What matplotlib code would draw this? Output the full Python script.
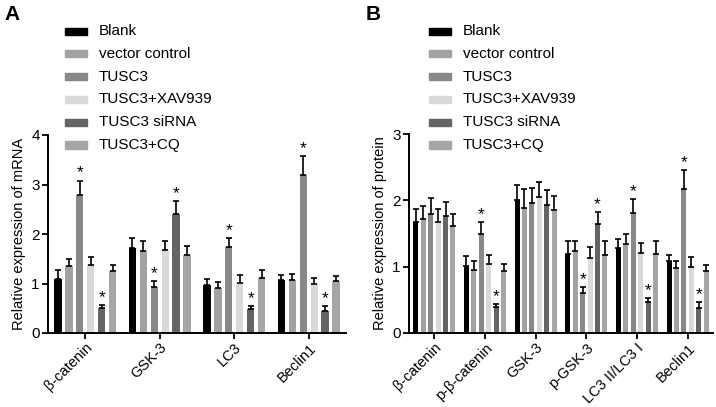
import matplotlib
matplotlib.use("Agg")
import matplotlib.pyplot as plt
import numpy as np
from matplotlib.patches import Rectangle

plt.rcParams['font.family'] = ['Liberation Sans', 'DejaVu Sans']

groups = ["Blank", "vector control", "TUSC3", "TUSC3+XAV939", "TUSC3 siRNA", "TUSC3+CQ"]
colors = ["#000000", "#a2a2a6", "#888888", "#d9d9d9", "#646464", "#a6a6a9"]

cats_a = ["β-catenin", "GSK-3", "LC3", "Beclin1"]
vals_a = [
    [1.10, 1.72, 0.97, 1.07],
    [1.35, 1.65, 0.91, 1.08],
    [2.78, 0.92, 1.73, 3.19],
    [1.38, 1.67, 1.02, 1.00],
    [0.50, 2.40, 0.48, 0.45],
    [1.25, 1.58, 1.12, 1.05],
]
errs_a = [
    [0.17, 0.19, 0.13, 0.11],
    [0.14, 0.20, 0.13, 0.11],
    [0.30, 0.13, 0.18, 0.39],
    [0.15, 0.19, 0.16, 0.12],
    [0.07, 0.26, 0.07, 0.10],
    [0.13, 0.18, 0.15, 0.10],
]
stars_a = [
    [0, 0, 0, 0],
    [0, 0, 0, 0],
    [1, 1, 1, 1],
    [0, 0, 0, 0],
    [1, 1, 1, 1],
    [0, 0, 0, 0],
]

cats_b = ["β-catenin", "p-β-catenin", "GSK-3", "p-GSK-3", "LC3 II/LC3 I", "Beclin1"]
vals_b = [
    [1.67, 1.01, 2.01, 1.19, 1.28, 1.08],
    [1.72, 0.95, 1.88, 1.24, 1.34, 0.98],
    [1.79, 1.49, 1.96, 0.61, 1.81, 2.17],
    [1.68, 1.04, 2.05, 1.13, 1.21, 1.00],
    [1.76, 0.39, 1.93, 1.65, 0.46, 0.38],
    [1.61, 0.94, 1.86, 1.18, 1.19, 0.94],
]
errs_b = [
    [0.20, 0.15, 0.22, 0.20, 0.14, 0.10],
    [0.20, 0.13, 0.29, 0.14, 0.15, 0.10],
    [0.24, 0.18, 0.23, 0.08, 0.21, 0.29],
    [0.19, 0.13, 0.22, 0.17, 0.14, 0.15],
    [0.22, 0.05, 0.22, 0.17, 0.07, 0.09],
    [0.18, 0.10, 0.20, 0.20, 0.20, 0.09],
]
stars_b = [
    [0, 0, 0, 0, 0, 0],
    [0, 0, 0, 0, 0, 0],
    [0, 1, 0, 1, 1, 1],
    [0, 0, 0, 0, 0, 0],
    [0, 1, 0, 1, 1, 1],
    [0, 0, 0, 0, 0, 0],
]

W, H = 716, 407
fig = plt.figure(figsize=(W / 100, H / 100), dpi=100)


def panel(rect, cats, vals, errs, stars, ymax, ylabel, star_off):
    ax = fig.add_axes(rect)
    n = len(cats)
    x = np.arange(n)
    pitch = 0.147
    bw = 0.10
    for i in range(len(groups)):
        xs = x + (i - 2.5) * pitch
        v = np.array(vals[i])
        e = np.array(errs[i])
        ax.bar(xs, v, width=bw, color=colors[i], zorder=2)
        ax.errorbar(xs, v, yerr=[np.zeros_like(e), e], fmt='none', ecolor='black',
                    elinewidth=1.2, capsize=2.2, capthick=1.2, zorder=3)
        for j in range(n):
            if stars[i][j]:
                ax.text(xs[j], v[j] + e[j] + star_off, "*", ha='center', va='bottom',
                        fontsize=12.5)
    ax.set_xlim(-0.5, n - 0.5)
    ax.set_ylim(0, ymax)
    ax.set_yticks(range(0, ymax + 1))
    ax.set_xticks(x)
    ax.set_xticklabels(cats, rotation=45, ha='right', rotation_mode='anchor', fontsize=10.5)
    ax.tick_params(axis='y', labelsize=11, width=1.3, length=4, pad=2)
    ax.tick_params(axis='x', width=1.3, length=4, pad=1.5)
    for s in ['top', 'right']:
        ax.spines[s].set_visible(False)
    for s in ['left', 'bottom']:
        ax.spines[s].set_linewidth(1.4)
    ax.set_ylabel(ylabel, fontsize=10.5, labelpad=4)
    return ax


def fx(px):
    return px / W


def fy(py):
    return 1 - py / H


axA = panel([fx(48), fy(333), fx(346 - 48), fy(135) - fy(333)], cats_a, vals_a, errs_a,
            stars_a, 4, "Relative expression of mRNA", 0.0)
axB = panel([fx(409), fy(333), fx(713 - 409), fy(134) - fy(333)], cats_b, vals_b, errs_b,
            stars_b, 3, "Relative expression of protein", 0.0)

# legends
for lx, tx in [(65, 99), (429, 463)]:
    for i, g in enumerate(groups):
        cy = 31 + i * 22.8
        fig.patches.append(Rectangle((fx(lx), fy(cy + 3.5)), fx(22), fy(cy - 3.5) - fy(cy + 3.5),
                                     transform=fig.transFigure, color=colors[i], zorder=5))
        fig.text(fx(tx), fy(cy), g, fontsize=11, va='center', ha='left')

fig.text(fx(4), fy(14), "A", fontsize=15, fontweight='bold', va='center', ha='left')
fig.text(fx(366), fy(14), "B", fontsize=15, fontweight='bold', va='center', ha='left')

fig.savefig("out.png", dpi=100)
